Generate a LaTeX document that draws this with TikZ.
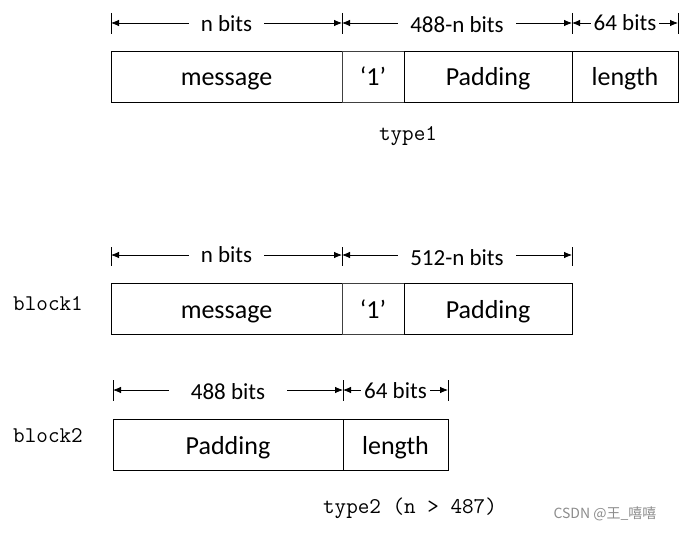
\documentclass[tikz,border=0pt]{standalone}
\usepackage{fontspec}
\setmainfont{Carlito}
\newfontfamily\cjk{Noto Sans CJK SC}
\usetikzlibrary{arrows.meta}
\begin{document}
\begin{tikzpicture}[x=1pt,y=-1pt,
  cell/.style={draw=black,line width=0.9pt,minimum height=51pt,inner sep=0pt,
    text height=22pt,text depth=3pt,font=\fontsize{26}{30}\selectfont},
  cellg/.style={cell,draw=black!75},
  tick/.style={line width=0.9pt},
  dimline/.style={line width=0.8pt,{Latex[length=8pt,width=6.5pt]}-{Latex[length=8pt,width=6.5pt]}},
  lab/.style={fill=white,inner xsep=12pt,inner ysep=1pt,text height=18pt,text depth=2pt,
    font=\fontsize{23}{27}\selectfont},
  side/.style={font=\ttfamily\fontsize{22.5}{26}\selectfont},
]
\useasboundingbox (0,0) rectangle (679,532);
% ---------- type1 ----------
\node[cell,minimum width=231pt] (m1) at (226.5,76.5) {message};
\node[cellg,minimum width=62pt] (o1) at (373,76.5) {‘1’};
\node[cell,minimum width=168pt] (p1) at (488,76.5) {Padding};
\node[cell,minimum width=106pt] (l1) at (625,76.5) {length};
\coordinate (a1) at (111,23);
\coordinate (a2) at (342,23);
\coordinate (a3) at (572,23);
\coordinate (a4) at (678,23);
\foreach \c in {a1,a2,a3,a4} \draw[tick] ([yshift=10pt]\c) -- ([yshift=-11pt]\c);
\draw[dimline] (a1) -- node[lab,yshift=-0.5pt] {n bits} (a2);
\draw[dimline] (a2) -- node[lab,yshift=-1.5pt] {488-n bits} (a3);
\draw[dimline] (a3) -- node[lab,inner xsep=3pt] {64 bits} (a4);
\node[side] (t1) at (408,136) {type1};
% ---------- block1 ----------
\node[cell,minimum width=231pt] (m2) at (226.5,308.5) {message};
\node[cellg,minimum width=62pt] (o2) at (373,308.5) {‘1’};
\node[cell,minimum width=168pt] (p2) at (488,308.5) {Padding};
\coordinate (b1) at (111,255);
\coordinate (b2) at (342,255);
\coordinate (b3) at (572,255);
\foreach \c in {b1,b2,b3} \draw[tick] ([yshift=8pt]\c) -- ([yshift=-11pt]\c);
\draw[dimline] (b1) -- node[lab,yshift=1pt] {n bits} (b2);
\draw[dimline] (b2) -- node[lab,yshift=-2pt] {512-n bits} (b3);
\node[side] (k1) at (48,304) {block1};
% ---------- block2 ----------
\node[cell,minimum width=230pt] (p3) at (228,444.5) {Padding};
\node[cell,minimum width=105pt] (l3) at (395.5,444.5) {length};
\coordinate (c1) at (113,390);
\coordinate (c2) at (343,390);
\coordinate (c3) at (448,390);
\foreach \c in {c1,c2,c3} \draw[tick] ([yshift=10pt]\c) -- ([yshift=-11pt]\c);
\draw[dimline] (c1) -- node[lab,inner xsep=22pt,yshift=-1pt] {488 bits} (c2);
\draw[dimline] (c2) -- node[lab,inner xsep=3pt] {64 bits} (c3);
\node[side] (k2) at (48,436) {block2};
% ---------- captions ----------
\node[side] (t2) at (410,508) {type2 (n > 487)};
\node[font=\cjk\fontsize{14}{16}\selectfont,text=black!45] (wm) at (605,514) {CSDN @王\_嘻嘻};
\end{tikzpicture}
\end{document}
